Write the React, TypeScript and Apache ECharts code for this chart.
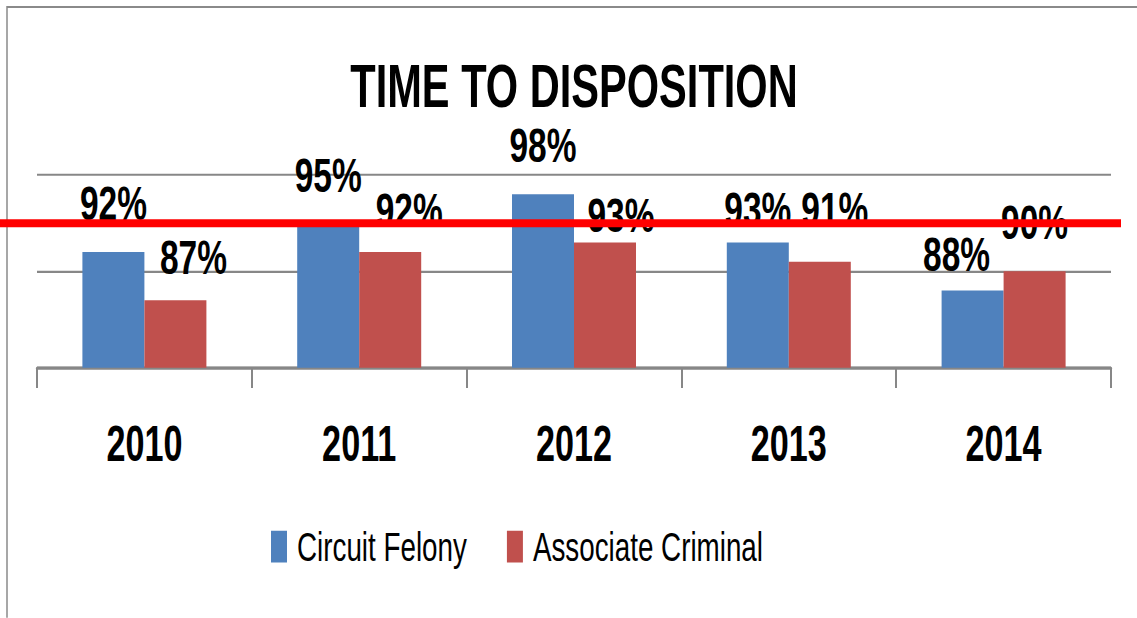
import React, { useEffect, useRef } from "react";
import * as echarts from "echarts";

const years = ["2010", "2011", "2012", "2013", "2014"];
const circuitFelony = [92, 95, 98, 93, 88];
const associateCriminal = [87, 92, 93, 91, 90];
const targetValue = 95;
const yMin = 80;
const yMax = 100;
const yInterval = 10;
const seriesNames = ["Circuit Felony", "Associate Criminal"];
const chartTitle = "TIME TO DISPOSITION";

// pixel nudges of the data labels, as placed in the reference
const cfLabelNudge = [[0, -17], [0, -16], [0, -17], [0, -6], [-16, -8]];
const acLabelNudge = [[18, -13], [19, -12], [16, -2], [15, -19], [0, -17]];

// the reference is a vertically stretched picture: draw at 1/S height and stretch
const S = 1.45;
const W = 1137;
const H = 618;

const FONT = "'Liberation Sans', Arial, sans-serif";
const GRID_GRAY = "#878787";

export default function App() {
  const ref = useRef<HTMLDivElement>(null);
  useEffect(() => {
    if (!ref.current) return;
    const chart = echarts.init(ref.current, undefined, { renderer: "svg" });
    const labelBase = {
      show: true,
      position: "top",
      distance: 0,
      formatter: "{c}%",
      fontSize: 33.5,
      lineHeight: 34,
      fontWeight: "bold",
      fontFamily: FONT,
      color: "#000",
    };
    const frame = {
      type: "rect",
      silent: true,
      shape: { x: 7, y: 7 / S, width: 1400, height: 900 },
      style: { fill: "none", stroke: "#8a8a8a", lineWidth: 1.5 },
      z: 0,
    };
    chart.setOption({
      animation: false,
      title: {
        text: chartTitle,
        left: 574,
        textAlign: "center",
        top: 38,
        padding: 0,
        textStyle: {
          fontSize: 41.6,
          lineHeight: 42,
          fontWeight: "bold",
          fontFamily: FONT,
          color: "#000",
        },
      },
      legend: {
        data: seriesNames,
        left: 271,
        top: 363,
        padding: 0,
        icon: "rect",
        itemWidth: 16,
        itemHeight: 22,
        itemGap: 40,
        textStyle: {
          fontSize: 27.8,
          lineHeight: 28,
          fontFamily: FONT,
          color: "#000",
          padding: [0, 0, 0, 5],
        },
      },
      grid: { left: 37, right: 26, top: 175 / S, bottom: H / S - 368 / S, containLabel: false },
      xAxis: {
        type: "category",
        data: years,
        axisLine: { show: true, lineStyle: { color: GRID_GRAY, width: 2.1 } },
        axisTick: { show: true, length: 14, lineStyle: { color: GRID_GRAY, width: 2 } },
        axisLabel: {
          fontSize: 34.2,
          lineHeight: 34,
          fontWeight: "bold",
          fontFamily: FONT,
          color: "#000",
          margin: 35.4,
        },
      },
      yAxis: {
        type: "value",
        min: yMin,
        max: yMax,
        interval: yInterval,
        axisLabel: { show: false },
        axisLine: { show: false },
        axisTick: { show: false },
        splitLine: { show: true, lineStyle: { color: GRID_GRAY, width: 1.4 } },
      },
      series: [
        {
          name: seriesNames[0],
          type: "bar",
          barWidth: 62,
          barGap: "0%",
          itemStyle: { color: "#4F81BD" },
          label: labelBase,
          data: circuitFelony.map((v, i) => ({ value: v, label: { offset: cfLabelNudge[i] } })),
        },
        {
          name: seriesNames[1],
          type: "bar",
          barWidth: 62,
          barGap: "0%",
          itemStyle: { color: "#C0504D" },
          label: labelBase,
          data: associateCriminal.map((v, i) => ({ value: v, label: { offset: acLabelNudge[i] } })),
        },
      ],
      graphic: [frame],
    });
    const y = chart.convertToPixel({ yAxisIndex: 0 }, targetValue) as number;
    chart.setOption({
      graphic: [
        frame,
        {
          type: "line",
          silent: true,
          shape: { x1: 0, y1: y, x2: 1121, y2: y },
          style: { stroke: "#ff0000", lineWidth: 8 / S },
          z: 100,
        },
      ],
    });
    return () => chart.dispose();
  }, []);
  return (
    <div
      style={{
        position: "fixed",
        left: 0,
        top: 0,
        width: W,
        height: H,
        overflow: "hidden",
        background: "#fff",
      }}
    >
      <div
        ref={ref}
        style={{
          width: W,
          height: H / S,
          transform: `scaleY(${S})`,
          transformOrigin: "0 0",
        }}
      />
    </div>
  );
}
